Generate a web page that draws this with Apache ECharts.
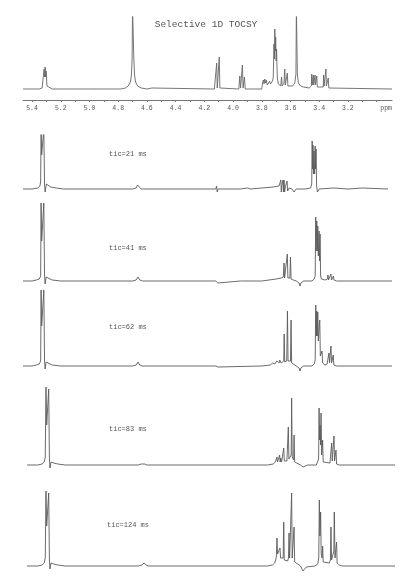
<!DOCTYPE html>
<html><head><meta charset="utf-8">
<script src="https://cdn.jsdelivr.net/npm/echarts@6/dist/echarts.min.js"></script>
<style>html,body{margin:0;padding:0;background:#fff}#c{width:400px;height:580px}</style>
</head><body><div id="c"></div>
<script>
const chartTitle = 'Selective 1D TOCSY';
const axisUnit = 'ppm';
const axisTickLabels = [5.4,5.2,5.0,4.8,4.6,4.4,4.2,4.0,3.8,3.6,3.4,3.2];
const axisTicks = [5.4,5.3,5.2,5.1,5.0,4.9,4.8,4.7,4.6,4.5,4.4,4.3,4.2,4.1,4.0,3.9,3.8,3.7,3.6,3.5,3.4,3.3,3.2,3.1,3.0];
const panelLabels = ['tic=21 ms','tic=41 ms','tic=62 ms','tic=83 ms','tic=124 ms'];

// [ppm, intensity]
const reference1H = [
 [5.463,0],[5.35,0],[5.33,1],[5.322,3],[5.316,20],[5.312,12],[5.309,22],[5.305,12],[5.302,18],[5.296,3],[5.285,1],[5.26,0],
 [5.0,0],[4.996,1],[4.99,0],[4.83,0],[4.82,1],[4.81,0],
 [4.78,0],[4.75,1],[4.73,3],[4.715,7],[4.708,14],[4.703,30],[4.700,80],[4.694,80],[4.691,30],[4.686,14],[4.679,7],[4.665,3],[4.64,1],[4.6,0],[4.565,1],[4.555,0],
 [4.13,0],[4.118,1],[4.114,26],[4.110,1],[4.100,1],[4.096,32],[4.092,1],[4.08,0],
 [3.96,0],[3.953,13],[3.948,1],[3.940,1],[3.935,24],[3.930,1],[3.925,1],[3.921,12],[3.915,0],
 [3.80,0],[3.795,6],[3.789,9],[3.784,5],[3.779,10],[3.774,6],[3.768,9],[3.762,4],[3.756,6],[3.750,3],[3.745,8],[3.740,5],[3.735,7],[3.730,4],[3.725,8],[3.720,12],[3.715,45],[3.712,30],[3.709,60],[3.706,38],[3.703,52],[3.700,28],[3.697,40],[3.692,12],[3.685,5],[3.675,3],
 [3.668,3],[3.662,12],[3.658,3],[3.650,3],[3.645,6],[3.640,20],[3.636,4],[3.626,4],[3.622,16],[3.618,3],[3.605,2],[3.585,3],[3.57,6],[3.562,15],[3.559,80],[3.555,80],[3.552,15],[3.545,6],[3.53,3],[3.51,2],
 [3.47,1],[3.455,3],[3.452,15],[3.449,4],[3.445,4],[3.441,14],[3.438,4],[3.432,4],[3.429,14],[3.426,4],[3.420,4],[3.417,13],[3.413,2],[3.40,1],
 [3.372,2],[3.369,14],[3.366,3],[3.356,3],[3.353,20],[3.350,3],[3.340,2],[3.337,11],[3.333,1],[3.32,0],[2.893,0]
];
const mix21 = [
 [5.463,0],[5.40,0],[5.36,1],[5.345,3],[5.34,8],[5.337,60],[5.333,34],[5.327,34],[5.318,60],[5.313,5],[5.309,-3],[5.300,5],[5.29,4],[5.27,2],[5.23,1],[5.18,0],
 [4.70,0],[4.675,1],[4.665,4],[4.655,2],[4.64,0],[4.25,0],[4.12,0],[4.115,3],[4.110,-3],[4.105,0],[3.95,0],[3.90,1],[3.88,0],[3.80,1],[3.72,2],[3.68,3],
 [3.670,2],[3.667,9],[3.664,-3],[3.660,3],[3.655,2],[3.652,9],[3.649,-3],[3.645,9],[3.641,-3],[3.636,2],[3.624,8],[3.620,-2],[3.61,1],[3.59,0],[3.575,-3],[3.56,0],[3.50,0],
 [3.46,1],[3.452,5],[3.449,48],[3.446,20],[3.443,44],[3.440,15],[3.436,38],[3.432,15],[3.428,43],[3.425,20],[3.422,40],[3.418,3],[3.412,-3],[3.40,0],[3.30,1],[3.20,0],[3.10,1],[2.921,0]
];
const mix41 = [
 [5.463,0],[5.40,0],[5.37,1],[5.35,2],[5.34,5],[5.337,78],[5.333,40],[5.327,38],[5.318,78],[5.313,6],[5.309,-3],[5.302,4],[5.29,3],[5.26,1],[5.2,0],
 [4.70,0],[4.675,1],[4.662,4],[4.65,1],[4.63,0],
 [4.12,0],[4.112,2],[4.106,-2],[4.10,0],[3.95,0],[3.945,1],[3.94,-1],[3.935,0],
 [3.80,0],[3.75,1],[3.70,2],[3.665,3],[3.650,4],[3.645,18],[3.641,3],[3.628,4],[3.622,27],[3.618,3],[3.604,3],[3.600,24],[3.596,2],[3.58,1],[3.56,0],[3.540,-2],[3.534,-5],[3.528,-2],[3.51,0],
 [3.45,0],[3.435,2],[3.428,5],[3.424,64],[3.421,30],[3.417,60],[3.413,30],[3.410,55],[3.406,25],[3.401,50],[3.397,20],[3.394,47],[3.390,5],[3.385,2],[3.36,1],
 [3.342,2],[3.339,6],[3.335,1],[3.322,2],[3.318,7],[3.314,1],[3.304,2],[3.301,5],[3.297,1],[3.28,0],[2.893,0]
];
const mix62 = [
 [5.463,0],[5.40,0],[5.37,1],[5.35,2],[5.34,5],[5.337,76],[5.333,40],[5.327,38],[5.318,76],[5.313,6],[5.309,-3],[5.302,4],[5.29,3],[5.26,1],[5.2,0],
 [4.70,0],[4.675,1],[4.662,4],[4.65,1],[4.63,0],
 [4.12,0],[4.112,1],[4.106,-1],[4.10,0],
 [3.80,0],[3.74,1],[3.725,3],[3.720,2],[3.715,4],[3.710,2],[3.705,4],[3.700,3],[3.695,5],[3.690,3],[3.685,5],[3.680,3],[3.675,6],[3.665,3],[3.655,4],[3.647,5],[3.644,32],[3.640,4],[3.626,5],[3.621,55],[3.617,5],[3.600,5],[3.596,46],[3.592,3],[3.58,1],[3.56,0],[3.540,-2],[3.534,-5],[3.528,-2],[3.51,0],
 [3.45,0],[3.435,2],[3.428,6],[3.424,61],[3.420,30],[3.417,55],[3.414,30],[3.410,54],[3.406,25],[3.400,40],[3.396,46],[3.392,10],[3.385,8],[3.380,15],[3.376,3],[3.36,1],
 [3.345,2],[3.336,3],[3.332,13],[3.328,3],[3.322,4],[3.318,20],[3.314,3],[3.306,3],[3.302,11],[3.298,1],[3.28,0],[2.893,0]
];
const mix83 = [
 [5.435,0],[5.36,0],[5.33,1],[5.315,3],[5.308,8],[5.303,78],[5.298,40],[5.290,38],[5.284,76],[5.279,6],[5.275,-3],[5.268,3],[5.25,2],[5.22,1],[5.17,0],
 [4.66,0],[4.64,1],[4.627,3],[4.615,1],[4.60,0],
 [3.76,0],[3.72,1],[3.705,3],[3.698,2],[3.694,8],[3.690,3],[3.680,4],[3.676,10],[3.672,3],[3.668,7],[3.662,3],[3.655,3],[3.650,4],[3.647,17],[3.643,4],[3.625,4],[3.619,5],[3.615,38],[3.611,6],[3.600,5],[3.595,10],[3.592,67],[3.588,8],[3.578,5],[3.575,30],[3.571,3],[3.56,1],[3.53,0],[3.512,-2],[3.506,-4],[3.500,-2],[3.48,0],
 [3.42,0],[3.41,2],[3.404,6],[3.401,57],[3.397,25],[3.394,40],[3.390,20],[3.387,52],[3.383,10],[3.376,25],[3.372,3],[3.36,1],
 [3.325,2],[3.316,4],[3.313,22],[3.309,4],[3.300,5],[3.297,29],[3.293,4],[3.286,3],[3.283,15],[3.279,1],[3.26,0],[2.872,0]
];
const mix124 = [
 [5.435,0],[5.36,0],[5.33,1],[5.315,3],[5.308,8],[5.303,75],[5.298,40],[5.290,38],[5.284,73],[5.279,6],[5.275,-3],[5.268,3],[5.25,2],[5.22,1],[5.17,0],
 [4.66,0],[4.635,1],[4.620,3],[4.605,1],[4.59,0],
 [3.76,0],[3.725,1],[3.71,3],[3.703,6],[3.698,10],[3.694,28],[3.690,12],[3.684,10],[3.677,14],[3.673,18],[3.669,8],[3.660,6],[3.651,8],[3.647,44],[3.643,6],[3.630,4],[3.620,5],[3.614,8],[3.610,33],[3.606,8],[3.598,8],[3.592,73],[3.588,8],[3.579,6],[3.575,39],[3.571,4],[3.56,2],[3.53,0],[3.520,-2],[3.513,-5],[3.505,-3],[3.49,-1],
 [3.43,0],[3.41,2],[3.403,8],[3.399,66],[3.395,30],[3.390,54],[3.386,12],[3.380,8],[3.376,20],[3.372,4],[3.36,2],
 [3.33,3],[3.322,6],[3.318,39],[3.314,6],[3.305,8],[3.298,15],[3.295,54],[3.290,8],[3.283,6],[3.279,24],[3.275,3],[3.26,1],[3.24,0],[2.872,0]
];
const traces = [mix21, mix41, mix62, mix83, mix124];

const MONO = '"Liberation Mono","DejaVu Sans Mono",monospace';
const LINE = '#5a5a5a';
// panel layout: [gridTop, gridHeight, yMax]
const panelBox = [[135,62,54],[201,88,80],[286,88,80],[385,88,80],[486,88,80]];
const labelPos = [[109,154],[109,248],[109,327],[109,429],[107,525]];

const grid = [{left:23, right:8, top:17, height:78}];
const xAxis = [{
  type:'value', gridIndex:0, inverse:true, min:2.893, max:5.463,
  position:'bottom', offset:5,
  axisLine:{show:true, onZero:false, lineStyle:{color:'#777', width:1}},
  axisTick:{show:true, customValues:axisTicks, length:2, lineStyle:{color:'#777'}},
  axisLabel:{show:true, customValues:axisTickLabels, margin:5, color:'#555', fontFamily:MONO, fontSize:6.5,
    formatter:v=>Number(v).toFixed(1)},
  splitLine:{show:false}
}];
const yAxis = [{type:'value', gridIndex:0, min:-6, max:72, show:false}];
const series = [{type:'line', xAxisIndex:0, yAxisIndex:0, data:reference1H, showSymbol:false, symbol:'none',
  lineStyle:{color:'#666', width:0.9}, clip:true, animation:false}];

panelBox.forEach((b,i)=>{
  grid.push({left:23, right:5, top:b[0], height:b[1]});
  xAxis.push({type:'value', gridIndex:i+1, inverse:true, min:2.872, max:5.463, show:false});
  yAxis.push({type:'value', gridIndex:i+1, min:-8, max:b[2], show:false});
  series.push({type:'line', xAxisIndex:i+1, yAxisIndex:i+1, data:traces[i], showSymbol:false, symbol:'none',
    lineStyle:{color:LINE, width:0.9}, clip:true, animation:false});
});

const graphic = [
  {type:'text', x:206, y:24, style:{text:chartTitle, font:'9.5px '+MONO, fill:'#555', align:'center', verticalAlign:'middle'}},
  {type:'text', x:392, y:108, style:{text:axisUnit, font:'6.5px '+MONO, fill:'#555', align:'right', verticalAlign:'middle'}}
];
panelLabels.forEach((t,i)=>{
  graphic.push({type:'text', x:labelPos[i][0], y:labelPos[i][1], style:{text:t, font:'7px '+MONO, fill:'#555', align:'left', verticalAlign:'middle'}});
});

const chart = echarts.init(document.getElementById('c'), null, {renderer:'canvas'});
chart.setOption({backgroundColor:'#fff', animation:false, grid, xAxis, yAxis, series, graphic});
</script></body></html>
